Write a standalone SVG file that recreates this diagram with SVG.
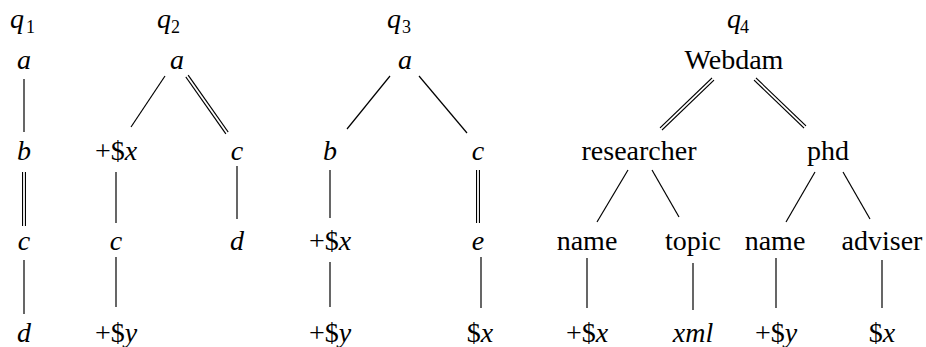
<svg xmlns="http://www.w3.org/2000/svg" width="926" height="347" viewBox="0 0 926 347">
<style>
text{font-family:'Liberation Serif','Times New Roman',serif;font-size:28px;fill:#000;text-anchor:middle}
.i{font-style:italic}
.lbl{text-anchor:start}
.sub{font-size:18px;font-style:normal}
.s{stroke:#000;stroke-width:1.2;fill:none}
.do{stroke:#000;stroke-width:4;fill:none}
.di{stroke:#fff;stroke-width:1.8;fill:none}
</style>
<rect width="926" height="347" fill="#fff"/>
<g id="labels">
<text class="lbl i" x="10" y="28">q</text><text class="lbl sub" x="26" y="33">1</text>
<text class="lbl i" x="157" y="28">q</text><text class="lbl sub" x="171" y="33">2</text>
<text class="lbl i" x="387" y="28">q</text><text class="lbl sub" x="402" y="33">3</text>
<text class="lbl i" x="727" y="28">q</text><text class="lbl sub" x="740" y="33">4</text>
</g>
<g id="connectors">
<line class="s" x1="24" y1="79" x2="24" y2="132"/>
<line class="do" x1="24" y1="172" x2="24" y2="226"/><line class="di" x1="24" y1="171" x2="24" y2="227"/>
<line class="s" x1="24" y1="260" x2="24" y2="314"/>
<line class="s" x1="165" y1="76" x2="131" y2="127"/>
<line class="do" x1="187" y1="76" x2="227" y2="133"/><line class="di" x1="186.4" y1="75.2" x2="227.6" y2="133.8"/>
<line class="s" x1="116" y1="172" x2="116" y2="223"/>
<line class="s" x1="237" y1="166" x2="237" y2="219"/>
<line class="s" x1="116" y1="257" x2="116" y2="307"/>
<line class="s" x1="390" y1="76" x2="347" y2="129"/>
<line class="s" x1="419" y1="76" x2="467" y2="133"/>
<line class="s" x1="330" y1="170" x2="330" y2="218"/>
<line class="do" x1="478" y1="170" x2="478" y2="223"/><line class="di" x1="478" y1="169" x2="478" y2="224"/>
<line class="s" x1="330" y1="262" x2="330" y2="307"/>
<line class="s" x1="481" y1="257" x2="481" y2="308"/>
<line class="do" x1="713" y1="79" x2="661" y2="129"/><line class="di" x1="713.7" y1="78.3" x2="660.3" y2="129.7"/>
<line class="do" x1="755" y1="79" x2="805" y2="127"/><line class="di" x1="754.3" y1="78.3" x2="805.7" y2="127.7"/>
<line class="s" x1="628" y1="170" x2="597" y2="222"/>
<line class="s" x1="652" y1="170" x2="679" y2="217"/>
<line class="s" x1="815" y1="172" x2="786" y2="222"/>
<line class="s" x1="843" y1="172" x2="870" y2="219"/>
<line class="s" x1="587" y1="258" x2="587" y2="308"/>
<line class="s" x1="693" y1="263" x2="693" y2="310"/>
<line class="s" x1="776" y1="258" x2="776" y2="308"/>
<line class="s" x1="882" y1="260" x2="882" y2="308"/>
</g>
<g id="q1-a"><text class="i" x="24" y="69">a</text></g>
<g id="q1-b"><text class="i" x="24" y="160">b</text></g>
<g id="q1-c"><text class="i" x="24" y="250">c</text></g>
<g id="q1-d"><text class="i" x="24" y="342">d</text></g>
<g id="q2-a"><text class="i" x="177" y="69">a</text></g>
<g id="q2-x"><text x="116" y="160">+$<tspan class="i">x</tspan></text></g>
<g id="q2-c1"><text class="i" x="237" y="160">c</text></g>
<g id="q2-c2"><text class="i" x="116" y="250">c</text></g>
<g id="q2-d"><text class="i" x="237" y="250">d</text></g>
<g id="q2-y"><text x="116" y="342">+$<tspan class="i">y</tspan></text></g>
<g id="q3-a"><text class="i" x="405" y="69">a</text></g>
<g id="q3-b"><text class="i" x="330" y="160">b</text></g>
<g id="q3-c"><text class="i" x="478" y="160">c</text></g>
<g id="q3-x"><text x="330" y="250">+$<tspan class="i">x</tspan></text></g>
<g id="q3-e"><text class="i" x="478" y="250">e</text></g>
<g id="q3-y"><text x="330" y="342">+$<tspan class="i">y</tspan></text></g>
<g id="q3-x2"><text x="480" y="342">$<tspan class="i">x</tspan></text></g>
<g id="q4-webdam"><text x="734" y="69">Webdam</text></g>
<g id="q4-researcher"><text x="639" y="160">researcher</text></g>
<g id="q4-phd"><text x="828" y="160">phd</text></g>
<g id="q4-name1"><text x="587" y="250">name</text></g>
<g id="q4-topic"><text x="693" y="250">topic</text></g>
<g id="q4-name2"><text x="775" y="250">name</text></g>
<g id="q4-adviser"><text x="882" y="250">adviser</text></g>
<g id="q4-x"><text x="587" y="342">+$<tspan class="i">x</tspan></text></g>
<g id="q4-xml"><text class="i" x="693" y="342">xml</text></g>
<g id="q4-y"><text x="776" y="342">+$<tspan class="i">y</tspan></text></g>
<g id="q4-x2"><text x="882" y="342">$<tspan class="i">x</tspan></text></g>
</svg>
